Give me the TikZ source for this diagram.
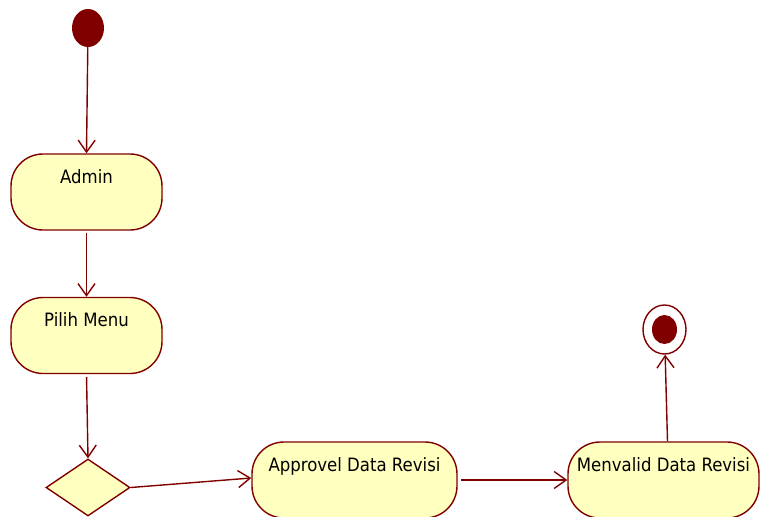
\documentclass[tikz,border=0pt]{standalone}
\usepackage{fontspec}
\setmainfont{DejaVu Sans Condensed}
\usetikzlibrary{arrows.meta,shapes.geometric}
\definecolor{umlline}{RGB}{128,0,0}
\definecolor{umlfill}{RGB}{255,255,192}
\tikzset{
  actbox/.style={draw=umlline, fill=umlfill, line width=1.4pt, rounded corners=32pt,
    minimum height=76pt, inner sep=0pt},
  acttext/.style={anchor=base, font=\fontsize{18.4}{20}\selectfont, inner sep=0pt},
  decision/.style={draw=umlline, fill=umlfill, line width=1.4pt, diamond, inner sep=0pt,
    minimum width=84pt, minimum height=57pt},
  flow/.style={draw=umlline, line width=1.4pt,
    -{Straight Barb[length=12pt,width=17pt,line width=1.4pt]}},
}
\begin{document}
\begin{tikzpicture}[x=1pt,y=-1pt]
  \useasboundingbox (0,0) rectangle (761,517);

  % start and end points
  \node[ellipse, fill=umlline, inner sep=0pt, minimum width=32pt, minimum height=38pt] (start) at (88,28) {};
  \node[ellipse, draw=umlline, fill=white, line width=1.4pt, inner sep=0pt, minimum width=43pt, minimum height=49pt] (fin) at (664.5,329.5) {};
  \node[ellipse, fill=umlline, inner sep=0pt, minimum width=25pt, minimum height=29pt] (finin) at (664.5,329.5) {};

  % activities
  \node[actbox, minimum width=151pt] (admin) at (86.5,192) {};
  \node[acttext] (admint) at ([yshift=-30pt]admin.north) {Admin};
  \node[actbox, minimum width=151pt] (pilih) at (86.5,335.5) {};
  \node[acttext] (piliht) at ([yshift=-30pt]pilih.north) {Pilih Menu};
  \node[decision] (dec) at (88,487.5) {};
  \node[actbox, minimum width=205pt] (appr) at (354.5,480) {};
  \node[acttext] (apprt) at ([yshift=-30pt]appr.north) {Approvel Data Revisi};
  \node[actbox, minimum width=191pt] (menv) at (663.5,480) {};
  \node[acttext] (menvt) at ([yshift=-30pt]menv.north) {Menvalid Data Revisi};

  % transitions
  \draw[flow] (start) -- (admin.north);
  \draw[flow, shorten <=2pt] (admin.south) -- (pilih.north);
  \draw[flow, shorten <=3pt] (pilih.south) -- (dec.north);
  \draw[flow] (dec.east) -- ([yshift=2pt]appr.west);
  \draw[flow, shorten <=3pt] (appr.east) -- (menv.west);
  \draw[flow] ([xshift=4pt]menv.north) -- (fin);
\end{tikzpicture}
\end{document}
